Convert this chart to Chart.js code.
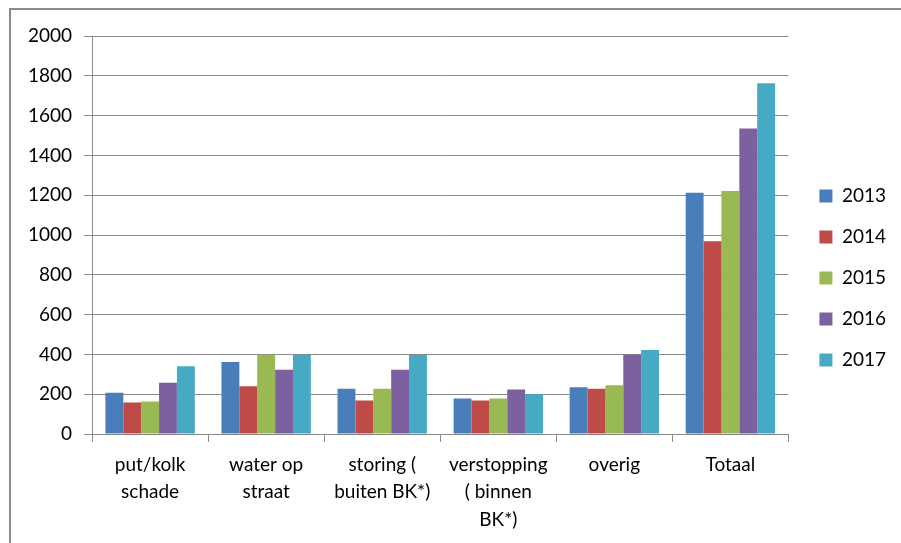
<!DOCTYPE html>
<html>
<head>
<meta charset="utf-8">
<script src="https://cdn.jsdelivr.net/npm/chart.js@4/dist/chart.umd.min.js"></script>
<style>
  html, body { margin: 0; padding: 0; background: #fff; }
  #wrap { position: relative; width: 901px; height: 543px; overflow: hidden; }
  #frame { position: absolute; left: 9px; top: 8px; width: 1000px; height: 600px; border: 2px solid #8a8a8a; box-sizing: border-box; }
  #c { position: absolute; left: 0; top: 0; }
</style>
</head>
<body>
<div id="wrap">
  <div id="frame"></div>
  <canvas id="c" width="901" height="543"></canvas>
</div>
<script>
// categorieën en waarden per jaar
const categories = [
  ['put/kolk', 'schade'],
  ['water op', 'straat'],
  ['storing (', 'buiten BK*)'],
  ['verstopping', '( binnen', 'BK*)'],
  ['overig'],
  ['Totaal']
];
const years = ['2013', '2014', '2015', '2016', '2017'];
const v2013 = [207, 362, 228, 178, 235, 1212];
const v2014 = [158, 240, 168, 168, 228, 968];
const v2015 = [163, 398, 228, 178, 245, 1221];
const v2016 = [257, 323, 323, 223, 398, 1535];
const v2017 = [340, 398, 397, 200, 422, 1763];
const colors = ['#4a7ebb', '#be4b48', '#98b954', '#7d60a0', '#46aac5'];

const series = [v2013, v2014, v2015, v2016, v2017];
const fontFam = 'Lato, "Liberation Sans", sans-serif';

// labels onder de as niet afknippen, legenda iets naar rechts
const tweakLayout = {
  id: 'tweakLayout',
  afterLayout(chart) {
    chart.scales.x.bottom = chart.height;
    chart.legend.left += 9;
    chart.legend.right += 9;
  }
};

new Chart(document.getElementById('c').getContext('2d'), {
  type: 'bar',
  data: {
    labels: categories,
    datasets: series.map((d, i) => ({
      label: years[i],
      data: d,
      backgroundColor: colors[i],
      borderWidth: 0,
      categoryPercentage: 0.77,
      barPercentage: 1.0
    }))
  },
  plugins: [tweakLayout],
  options: {
    responsive: false,
    animation: false,
    layout: { padding: { left: 16, top: 36, right: 14, bottom: 23 } },
    plugins: {
      tooltip: { enabled: false },
      legend: {
        position: 'right',
        labels: {
          color: '#000',
          font: { family: fontFam, size: 19 },
          boxWidth: 13,
          boxHeight: 13,
          padding: 22
        }
      }
    },
    scales: {
      x: {
        afterFit(scale) { scale.height = 86; },
        grid: { drawOnChartArea: false, drawTicks: true, tickLength: 8, color: '#8a8a8a', offset: true },
        border: { color: '#8a8a8a' },
        ticks: {
          color: '#000',
          font: { family: fontFam, size: 19, lineHeight: 1.45 },
          padding: 9,
          maxRotation: 0,
          autoSkip: false
        }
      },
      y: {
        min: 0,
        max: 2000,
        ticks: {
          stepSize: 200,
          color: '#000',
          font: { family: fontFam, size: 19 },
          padding: 12,
          callback: v => String(v)
        },
        grid: { color: '#8a8a8a', tickLength: 8 },
        border: { color: '#8a8a8a' }
      }
    }
  }
});
</script>
</body>
</html>
